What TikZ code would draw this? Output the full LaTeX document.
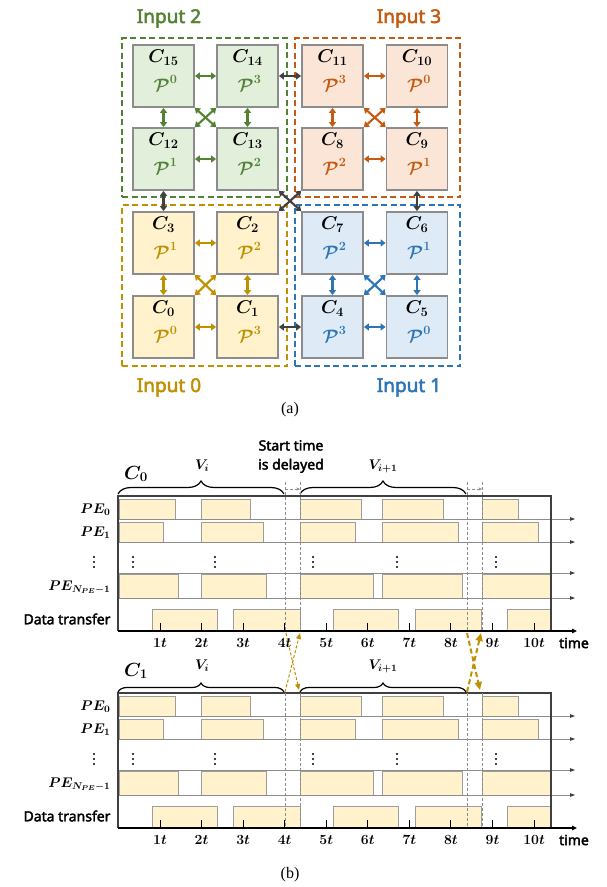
\RequirePackage{fix-cm}
\documentclass[tikz,border=0pt]{standalone}
\usepackage{amsmath,bm}
\usepackage{fontspec}
\setsansfont{Noto Sans}[AutoFakeBold=2.5]
\newfontfamily\capfont{Liberation Serif}
\usetikzlibrary{arrows.meta,decorations.pathreplacing,calc}
\definecolor{grn}{HTML}{548235}
\definecolor{grnf}{HTML}{E2EFDA}
\definecolor{org}{HTML}{C55A11}
\definecolor{orgf}{HTML}{FBE5D6}
\definecolor{gld}{HTML}{BF9000}
\definecolor{gldf}{HTML}{FFF2CC}
\definecolor{blu}{HTML}{2E75B6}
\definecolor{bluf}{HTML}{DEEBF7}
\definecolor{dk}{HTML}{404040}
\definecolor{gr}{HTML}{8C8C8C}
\tikzset{
  cell/.style={draw=gr, line width=1.2pt, minimum width=61pt, minimum height=62pt, inner sep=0pt},
  ctext/.style={anchor=base, inner sep=0pt, font=\fontsize{18.5}{20}\selectfont},
  ptext/.style={anchor=base, inner sep=0pt, font=\fontsize{18}{20}\selectfont},
  darr/.style={line width=2.1pt, {Triangle[length=5pt,width=7pt]}-{Triangle[length=5pt,width=7pt]}, shorten >=0.3pt, shorten <=0.3pt},
  grpbox/.style={line width=2.2pt, dash pattern=on 6pt off 3.5pt, minimum width=165pt, inner sep=0pt},
  inlab/.style={anchor=base, font=\sffamily\bfseries\fontsize{19}{22}\selectfont},
  bar/.style={fill=gldf, draw=gr!85, line width=1pt},
  rowline/.style={draw=gr, line width=0.8pt, -{Triangle[length=5pt,width=3.6pt,color=dk]}},
  dashln/.style={draw=gr, line width=0.8pt, dash pattern=on 3pt off 2pt},
  mlab/.style={font=\fontsize{14}{16}\selectfont},
  sflab/.style={font=\sffamily\bfseries\fontsize{14}{19}\selectfont},
}
\newcommand\mkcell[7]{%
  \node[cell, fill=#4] (#1) at (#2,#3) {};
  \node[ctext] (#1c) at ($(#1.north)+(0,18)$) {$\bm{C_{#6}}$};
  \node[ptext, text=#5] (#1p) at ($(#1.north)+(2,47)$) {$\bm{\mathcal{P}^{#7}}$};
}
\newcommand\grparrows[5]{% color, TL, TR, BL, BR
  \draw[darr, #1] (#2.east) -- (#3.west);
  \draw[darr, #1] (#4.east) -- (#5.west);
  \draw[darr, #1] (#2.south) -- (#4.north);
  \draw[darr, #1] (#3.south) -- (#5.north);
  \draw[darr, #1] (#2.south east) -- (#5.north west);
  \draw[darr, #1] (#3.south west) -- (#4.north east);
}
\newcommand\drawchart[3]{% shift, prefix, C index
\begin{scope}[shift={(0,#1)}]
  \foreach \a/\b in {119/175,201/250,300/361,382/443,482/518} \draw[bar] (\a,499) rectangle (\b,519);
  \foreach \a/\b in {119/163,201/263,300/355,382/458,482/538} \draw[bar] (\a,522) rectangle (\b,542);
  \foreach \a/\b in {119/178,201/266,300/373,382/462,482/551} \draw[bar] (\a,574) rectangle (\b,598);
  \foreach \a/\b in {152/217,233/300,333/398,415/481,507/551} \draw[bar] (\a,609) rectangle (\b,631);
  \foreach \yy in {519,542,573,598} \draw[rowline] (118,\yy) -- (575,\yy);
  \draw[dk, line width=1.4pt] (118,631) -- (118,496) -- (551,496) -- (551,631);
  \draw[black, line width=1.6pt, -{Triangle[length=5pt,width=4.5pt]}] (118,631) -- (577,631);
  \foreach \k in {1,...,10} {
    \pgfmathsetmacro\xx{160+41.56*(\k-1)}
    \draw[black, line width=1pt] (\xx,623) -- (\xx,631);
    \node[mlab] (#2t\k) at (\xx,643) {$\bm{\k t}$};
  }
  \node[sflab] (#2time) at (574,643) {time};
  \foreach \xx in {94,133,215,313,397,496}
    \foreach \dy in {-5,0,5} \fill[black] (\xx,562+\dy) circle (1.2pt);
  \node[mlab, anchor=east] (#2pe0) at (114,510) {$\bm{PE_0}$};
  \node[mlab, anchor=east] (#2pe1) at (114,533) {$\bm{PE_1}$};
  \node[mlab, anchor=east] (#2pen) at (114,587) {$\bm{PE_{N_{PE}-1}}$};
  \node[sflab, anchor=east] (#2dt) at (114,619) {Data transfer};
  \node[font=\fontsize{19}{22}\selectfont] (#2c) at (136,474) {$\bm{C_{#3}}$};
\end{scope}}

\begin{document}
\begin{tikzpicture}[x=1pt,y=-1pt]
\useasboundingbox (0,0) rectangle (606,887);
\fill[white] (0,0) rectangle (606,887);

% ---------- (a) ----------
\node[grpbox, draw=grn, minimum height=159pt] (g2) at (204.5,117.5) {};
\node[grpbox, draw=org, minimum height=159pt] (g3) at (377.5,117.5) {};
\node[grpbox, draw=gld, minimum height=161pt] (g0) at (204.5,285.5) {};
\node[grpbox, draw=blu, minimum height=161pt] (g1) at (377.5,285.5) {};

\mkcell{c15}{163.5}{76}{grnf}{grn}{15}{0}
\mkcell{c14}{247.5}{76}{grnf}{grn}{14}{3}
\mkcell{c12}{163.5}{159}{grnf}{grn}{12}{1}
\mkcell{c13}{247.5}{159}{grnf}{grn}{13}{2}

\mkcell{c11}{332.5}{76}{orgf}{org}{11}{3}
\mkcell{c10}{417}{76}{orgf}{org}{10}{0}
\mkcell{c8}{332.5}{159}{orgf}{org}{8}{2}
\mkcell{c9}{417}{159}{orgf}{org}{9}{1}

\mkcell{c3}{163.5}{243}{gldf}{gld}{3}{1}
\mkcell{c2}{247.5}{243}{gldf}{gld}{2}{2}
\mkcell{c0}{163.5}{327}{gldf}{gld}{0}{0}
\mkcell{c1}{247.5}{327}{gldf}{gld}{1}{3}

\mkcell{c7}{332.5}{243}{bluf}{blu}{7}{2}
\mkcell{c6}{417}{243}{bluf}{blu}{6}{1}
\mkcell{c4}{332.5}{327}{bluf}{blu}{4}{3}
\mkcell{c5}{417}{327}{bluf}{blu}{5}{0}

\grparrows{grn}{c15}{c14}{c12}{c13}
\grparrows{org}{c11}{c10}{c8}{c9}
\grparrows{gld}{c3}{c2}{c0}{c1}
\grparrows{blu}{c7}{c6}{c4}{c5}

\draw[darr, dk] (c14.east) -- (c11.west);
\draw[darr, dk] (c12.south) -- (c3.north);
\draw[darr, dk] (c9.south) -- (c6.north);
\draw[darr, dk] (c1.east) -- (c4.west);
\draw[darr, dk] (c13.south east) -- (c7.north west);
\draw[darr, dk] (c8.south west) -- (c2.north east);

\node[inlab, text=grn] (in2) at (169,23) {Input 2};
\node[inlab, text=org] (in3) at (409,23) {Input 3};
\node[inlab, text=gld] (in0) at (169,392) {Input 0};
\node[inlab, text=blu] (in1) at (409,392) {Input 1};

\node[font=\capfont\fontsize{16}{18}\selectfont] (capa) at (290,410) {(a)};

% ---------- (b) ----------
\drawchart{0}{A}{0}
\drawchart{197}{B}{1}

% braces top chart
\draw[decorate, decoration={brace, amplitude=13pt}, line width=1.2pt] (118,494) -- (284,494);
\draw[decorate, decoration={brace, amplitude=13pt}, line width=1.2pt] (300,494) -- (466,494);
\node[mlab] (vA1) at (202,466) {$\bm{V_i}$};
\node[mlab] (vA2) at (383,466) {$\bm{V_{i+1}}$};
% braces bottom chart
\draw[decorate, decoration={brace, amplitude=9pt}, line width=1.2pt] (118,692) -- (284,692);
\draw[decorate, decoration={brace, amplitude=9pt}, line width=1.2pt] (300,692) -- (466,692);
\node[mlab] (vB1) at (202,666) {$\bm{V_i}$};
\node[mlab] (vB2) at (383,666) {$\bm{V_{i+1}}$};

\node[sflab, align=center] (start) at (291,456.5) {Start time\\is delayed};

% dashed verticals
\foreach \xx in {285,300,467,482} {
  \draw[dashln] (\xx,482) -- (\xx,631);
  \draw[dashln] (\xx,693) -- (\xx,828);
}
\draw[dashln, -{Stealth[length=3.5pt,width=3pt]}] (285,489) -- (300,489);
\draw[dashln, -{Stealth[length=3.5pt,width=3pt]}] (467,489) -- (482,489);

% golden delay arrows
\draw[gld, line width=1pt, dash pattern=on 3pt off 2pt, -{Triangle[length=6pt,width=5pt]}] (286,633) -- (299,690);
\draw[gld, line width=1pt, dash pattern=on 3pt off 2pt, -{Triangle[length=6pt,width=5pt]}] (285,692) -- (300,633);
\draw[gld, line width=2pt, dash pattern=on 5pt off 3pt, -{Triangle[length=8pt,width=7pt]}] (467,633) -- (480,690);
\draw[gld, line width=2pt, dash pattern=on 5pt off 3pt, -{Triangle[length=8pt,width=7pt]}] (467,692) -- (481,633);

\node[font=\capfont\fontsize{16}{18}\selectfont] (capb) at (290,875) {(b)};
\end{tikzpicture}
\end{document}
